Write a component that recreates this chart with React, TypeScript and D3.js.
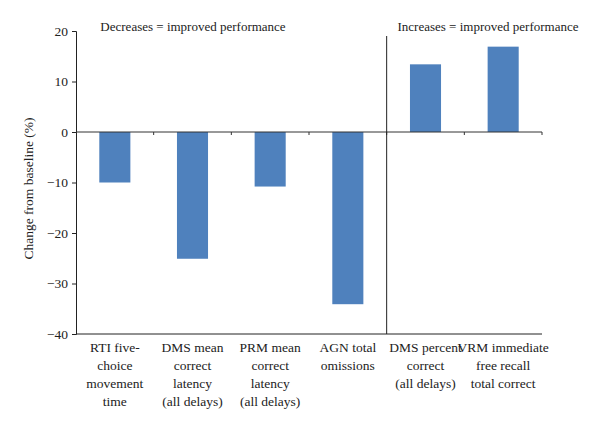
import { useEffect, useRef } from "react";
import * as d3 from "d3";

// measures on the x axis, one label line per entry
const measures = ["RTI", "DMS latency", "PRM latency", "AGN", "DMS percent", "VRM"];
const labelLines = [
  ["RTI five-", "choice", "movement", "time"],
  ["DMS mean", "correct", "latency", "(all delays)"],
  ["PRM mean", "correct", "latency", "(all delays)"],
  ["AGN total", "omissions"],
  ["DMS percent", "correct", "(all delays)"],
  ["VRM immediate", "free recall", "total correct"],
];
const changes = [-10.0, -25.1, -10.8, -34.1, 13.4, 16.9];
const yTicks = [20, 10, 0, -10, -20, -30, -40];

const W = 600;
const H = 428;
const margin = { left: 76, right: 58, top: 31, bottom: 94 };
const FONT = "'Liberation Serif', 'Times New Roman', serif";

export default function App() {
  const svgRef = useRef<SVGSVGElement>(null);

  useEffect(() => {
    const svg = d3.select(svgRef.current);
    svg.selectAll("*").remove();

    const x = d3.scaleBand<string>()
      .domain(measures)
      .range([margin.left, W - margin.right])
      .paddingInner(0.6)
      .paddingOuter(0.3);
    const step = x.step();
    const x0 = margin.left;

    const y = d3.scaleLinear().domain([-40, 20]).range([H - margin.bottom, margin.top]);

    // bars
    svg.append("g")
      .selectAll("rect")
      .data(changes)
      .join("rect")
      .attr("x", (d, i) => x(measures[i])!)
      .attr("width", x.bandwidth())
      .attr("y", (d) => y(Math.max(0, d)))
      .attr("height", (d) => Math.abs(y(d) - y(0)))
      .attr("fill", "#4f81bd");

    // y axis
    const yAxis = svg.append("g")
      .attr("transform", `translate(${x0},0)`)
      .call(d3.axisLeft(y).tickValues(yTicks).tickSize(4).tickPadding(4)
        .tickFormat((d) => d3.format("")(d as number).replace("-", "\u2212")));
    yAxis.select(".domain").attr("stroke", "#222");
    yAxis.selectAll(".tick line").attr("stroke", "#222");
    yAxis.selectAll("text")
      .attr("font-family", FONT)
      .attr("font-size", 13.5)
      .attr("fill", "#222");

    const xEnd = W - margin.right;

    // zero line with category ticks
    svg.append("line")
      .attr("x1", x0).attr("x2", xEnd)
      .attr("y1", y(0)).attr("y2", y(0))
      .attr("stroke", "#333");
    svg.append("g")
      .selectAll("line")
      .data(d3.range(1, measures.length + 1))
      .join("line")
      .attr("x1", (i) => x0 + i * step).attr("x2", (i) => x0 + i * step)
      .attr("y1", y(0)).attr("y2", y(0) + 3)
      .attr("stroke", "#333");

    // bottom line
    svg.append("line")
      .attr("x1", x0).attr("x2", xEnd)
      .attr("y1", y(-40)).attr("y2", y(-40))
      .attr("stroke", "#222");

    // divider between the two groups
    const divX = x0 + 4 * step;
    svg.append("line")
      .attr("x1", divX).attr("x2", divX)
      .attr("y1", 36).attr("y2", y(-40))
      .attr("stroke", "#222");

    // group titles
    svg.append("text")
      .attr("x", 193).attr("y", 31)
      .attr("text-anchor", "middle")
      .attr("font-family", FONT).attr("font-size", 13)
      .attr("fill", "#222")
      .text("Decreases = improved performance");
    svg.append("text")
      .attr("x", 488).attr("y", 31)
      .attr("text-anchor", "middle")
      .attr("font-family", FONT).attr("font-size", 13)
      .attr("fill", "#222")
      .text("Increases = improved performance");

    // category labels
    const lbl = svg.append("g")
      .selectAll("text")
      .data(labelLines)
      .join("text")
      .attr("text-anchor", "middle")
      .attr("font-family", FONT)
      .attr("font-size", 13.5)
      .attr("fill", "#222")
      .attr("transform", (d, i) => `translate(${x(measures[i])! + x.bandwidth() / 2},352)`);
    lbl.selectAll("tspan")
      .data((d) => d)
      .join("tspan")
      .attr("x", 0)
      .attr("y", (d, j) => j * 18)
      .text((d) => d);

    // y label
    svg.append("text")
      .attr("transform", `translate(33,${y(-10) + 6}) rotate(-90)`)
      .attr("text-anchor", "middle")
      .attr("font-family", FONT)
      .attr("font-size", 13.5)
      .attr("fill", "#222")
      .text("Change from baseline (%)");
  }, []);

  return (
    <div style={{ position: "absolute", left: 0, top: 0 }}>
      <svg ref={svgRef} width={W} height={H} style={{ display: "block", background: "#fff" }} />
    </div>
  );
}
